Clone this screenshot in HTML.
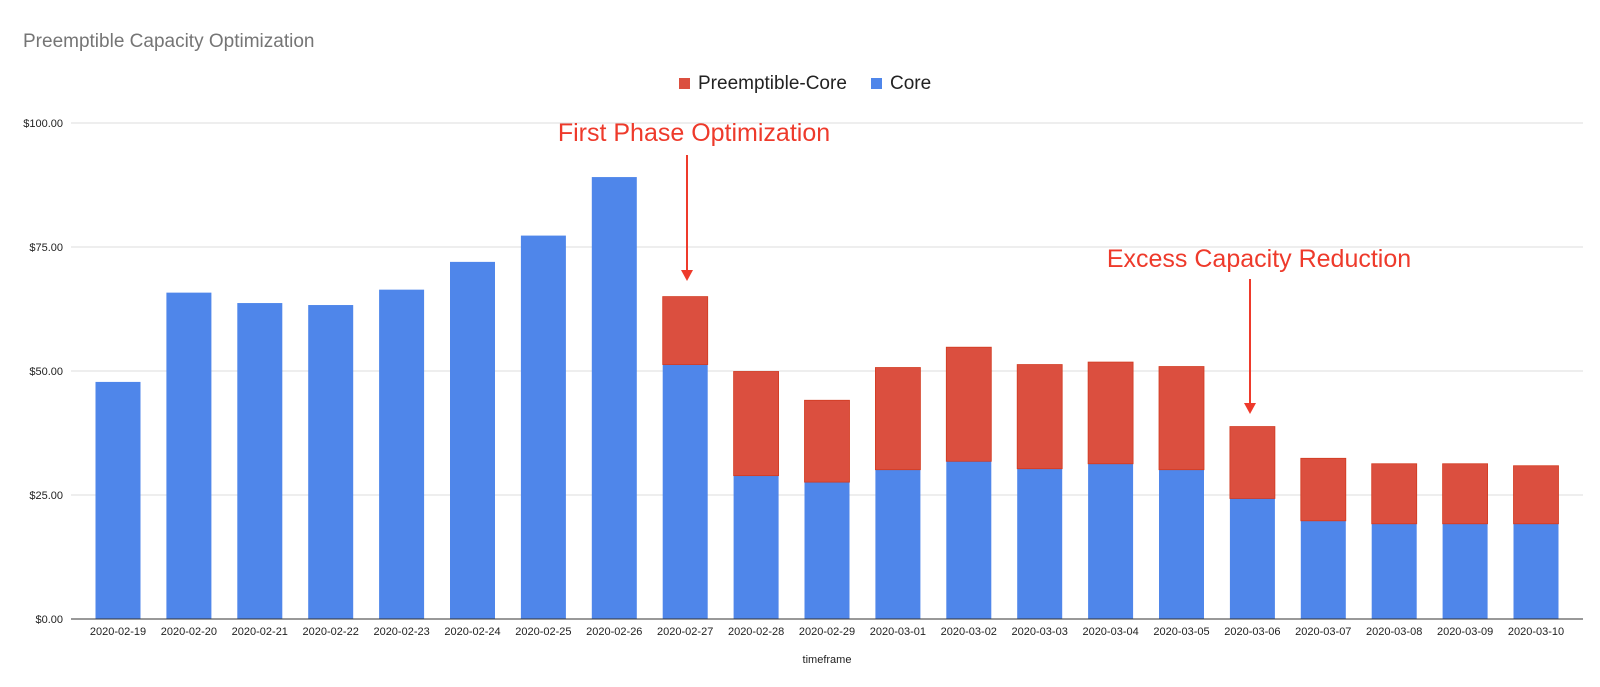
<!DOCTYPE html>
<html><head><meta charset="utf-8"><style>
body{margin:0;background:#fff;width:1600px;height:682px;overflow:hidden;font-family:"Liberation Sans",Arial,sans-serif}
</style></head><body>
<svg id="chart" width="1600" height="682" xmlns="http://www.w3.org/2000/svg" font-family="Liberation Sans, Arial, sans-serif">
<text x="23" y="47" font-size="19" fill="#757575">Preemptible Capacity Optimization</text>
<g>
<rect x="679" y="78" width="11" height="11" fill="#db4f3f"/>
<text x="698" y="89" font-size="19" fill="#222">Preemptible-Core</text>
<rect x="871" y="78" width="11" height="11" fill="#4f86ea"/>
<text x="890" y="89" font-size="19" fill="#222">Core</text>
</g>
<g id="grid"></g>
<g id="bars"></g>
<g id="xlabels"></g>
<line x1="71" y1="619" x2="1583" y2="619" stroke="#333" stroke-width="1"/>
<text x="827" y="663" font-size="11" text-anchor="middle" fill="#222">timeframe</text>
<g>
<text x="694" y="141" font-size="25" text-anchor="middle" fill="#ee3a2b">First Phase Optimization</text>
<line x1="687" y1="155" x2="687" y2="270" stroke="#ee3a2b" stroke-width="2"/>
<polygon points="681,270 693,270 687,281" fill="#ee3a2b"/>
</g>
<g>
<text x="1259" y="267" font-size="25" text-anchor="middle" fill="#ee3a2b">Excess Capacity Reduction</text>
<line x1="1250" y1="279" x2="1250" y2="403" stroke="#ee3a2b" stroke-width="2"/>
<polygon points="1244,403 1256,403 1250,414" fill="#ee3a2b"/>
</g>
</svg>
<script>
const categories=["2020-02-19","2020-02-20","2020-02-21","2020-02-22","2020-02-23","2020-02-24","2020-02-25","2020-02-26","2020-02-27","2020-02-28","2020-02-29","2020-03-01","2020-03-02","2020-03-03","2020-03-04","2020-03-05","2020-03-06","2020-03-07","2020-03-08","2020-03-09","2020-03-10"];
const coreValues=[47.8,65.8,63.7,63.3,66.4,72.0,77.3,89.1,51.3,28.9,27.6,30.1,31.8,30.3,31.3,30.1,24.3,19.8,19.2,19.2,19.2];
const preemptibleValues=[0,0,0,0,0,0,0,0,13.7,21.0,16.5,20.6,23.0,21.0,20.5,20.8,14.5,12.6,12.1,12.1,11.7];
const yTicks=[0,25,50,75,100];
const yTickLabels=["$0.00","$25.00","$50.00","$75.00","$100.00"];
const NS="http://www.w3.org/2000/svg";
const y0=619,y100=123;
function yScale(v){return y0-(y0-y100)*v/100;}
function xScale(i){return 118+i*70.9;}
const bw=45;
function mk(t,a,p){const e=document.createElementNS(NS,t);for(const k in a)e.setAttribute(k,a[k]);p.appendChild(e);return e;}
const grid=document.getElementById('grid'),bars=document.getElementById('bars'),xl=document.getElementById('xlabels');
yTicks.forEach((v,i)=>{
 if(v>0){const l=mk('line',{x1:71,x2:1583,y1:yScale(v),y2:yScale(v),stroke:'#dcdcdc','stroke-width':1},grid);
 
 }
 const t=mk('text',{x:63,y:yScale(v)+4,'font-size':11,'text-anchor':'end',fill:'#222'},grid);
 
 
 t.textContent=yTickLabels[i];
});
categories.forEach((c,i)=>{
 const cx=xScale(i);
 const r=mk('rect',{x:cx-bw/2,y:yScale(coreValues[i]),width:bw,height:yScale(0)-yScale(coreValues[i]),fill:'#4f86ea'},bars);
 
 
 if(preemptibleValues[i]>0){
  const top=coreValues[i]+preemptibleValues[i];
  const p=mk('rect',{x:cx-bw/2,y:yScale(top),width:bw,height:yScale(coreValues[i])-yScale(top),fill:'#db4f3f',stroke:'#d23a20','stroke-width':0.8},bars);
  
  
 }
 const t=mk('text',{x:cx,y:635,'font-size':11,'text-anchor':'middle',fill:'#222'},xl);
 
 
 t.textContent=c;
});
</script>
</body></html>
